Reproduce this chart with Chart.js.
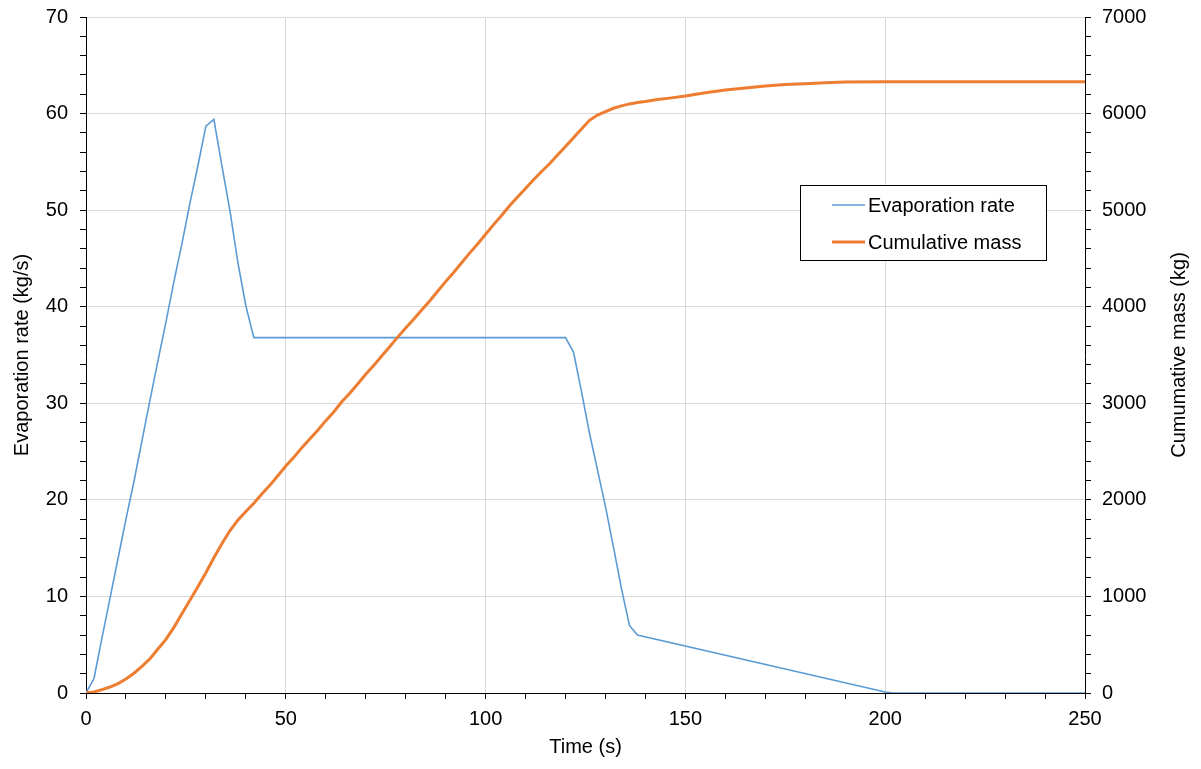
<!DOCTYPE html>
<html>
<head>
<meta charset="utf-8">
<script src="https://cdn.jsdelivr.net/npm/chart.js@4/dist/chart.umd.min.js"></script>
<style>
  body { margin: 0; background: #fff; }
  canvas { display: block; }
</style>
</head>
<body>
<canvas id="chart" width="1201" height="769"></canvas>
<script>
// evaporation rate (kg/s) vs time (s)
var evapTime = [0, 2, 4, 6, 8, 10, 12, 14, 16, 18, 20, 22, 24, 26, 28, 30, 32, 34, 36, 38, 40, 42,
                120, 122, 124, 126, 128, 130, 132, 134, 136, 138, 200, 202, 250];
var evapRate = [0, 1.5, 5.7, 9.8, 13.9, 18.0, 21.9, 26.1, 30.3, 34.4, 38.4, 42.6, 46.5, 50.7, 54.6, 58.7, 59.4, 54.6, 50.0, 44.6, 40.1, 36.8,
                36.8, 35.3, 31.2, 26.9, 23.1, 19.3, 15.1, 10.8, 7.0, 6.0, 0.1, 0, 0];

// cumulative mass (kg) vs time (s)
var massTime = [0, 2, 4, 6, 8, 10, 12, 14, 16, 18, 20, 22, 24, 26, 28, 30, 32, 34, 36, 38, 40, 42, 44, 46, 48, 50,
                52, 54, 56, 58, 60, 62, 64, 66, 68, 70, 72, 74, 76, 78, 80, 82, 84, 86, 88, 90, 92, 94, 96, 98, 100,
                102, 104, 106, 108, 110, 112, 114, 116, 118, 120, 122, 124, 126, 128, 130, 132, 134, 136, 138, 140,
                143, 146, 150, 155, 160, 165, 170, 175, 180, 185, 190, 200, 250];
var cumMass = [0, 10, 35, 62, 98, 145, 205, 275, 355, 455, 555, 680, 820, 960, 1100, 1245, 1400, 1545, 1680, 1790, 1880, 1965, 2060, 2150, 2250, 2350,
               2440, 2540, 2630, 2720, 2820, 2910, 3015, 3105, 3200, 3300, 3390, 3490, 3585, 3685, 3780, 3870, 3965, 4060, 4160, 4260, 4355, 4455, 4555, 4650, 4750,
               4850, 4945, 5045, 5135, 5225, 5315, 5400, 5480, 5570, 5660, 5750, 5840, 5930, 5985, 6020, 6055, 6080, 6100, 6115, 6125,
               6145, 6160, 6182, 6215, 6245, 6265, 6285, 6300, 6310, 6320, 6327, 6330, 6330];

var FONT = "'Liberation Sans', Arial, sans-serif";
var rightTitle = 'Cumumative mass (kg)';

function pts(xs, ys) {
  return xs.map(function (x, i) { return { x: x, y: ys[i] }; });
}

// legend drawn as a boxed key inside the plot, Excel style
// plus the right axis title, which reads bottom-to-top like the left one
var boxLegend = {
  id: 'boxLegend',
  afterDraw: function (chart) {
    var ctx = chart.ctx;
    var x0 = 800.5, y0 = 185.5, w = 246, h = 75;
    ctx.save();
    ctx.fillStyle = '#fff';
    ctx.fillRect(x0, y0, w, h);
    ctx.strokeStyle = '#000';
    ctx.lineWidth = 1;
    ctx.strokeRect(x0, y0, w, h);
    ctx.font = '20px ' + FONT;
    ctx.textBaseline = 'middle';
    ctx.fillStyle = '#000';
    var rows = [205, 242];
    chart.data.datasets.forEach(function (ds, i) {
      var y = rows[i];
      ctx.strokeStyle = ds.borderColor;
      ctx.lineWidth = ds.borderWidth;
      ctx.beginPath();
      ctx.moveTo(832, y);
      ctx.lineTo(865, y);
      ctx.stroke();
      ctx.fillText(ds.label, 868, y + 1);
    });

    var area = chart.chartArea;
    ctx.translate(1179, (area.top + area.bottom) / 2);
    ctx.rotate(-Math.PI / 2);
    ctx.textAlign = 'center';
    ctx.fillText(rightTitle, 0, 0);
    ctx.restore();
  }
};

function fitV(w) {
  return function (s) { s.width = w; s.paddingTop = 0; s.paddingBottom = 0; };
}

new Chart(document.getElementById('chart').getContext('2d'), {
  type: 'line',
  data: {
    datasets: [
      {
        label: 'Evaporation rate',
        data: pts(evapTime, evapRate),
        borderColor: '#5B9BD5',
        borderWidth: 1.6,
        yAxisID: 'y',
        order: 1
      },
      {
        label: 'Cumulative mass',
        data: pts(massTime, cumMass),
        borderColor: '#ED7D31',
        borderWidth: 3,
        yAxisID: 'y2',
        order: 0
      }
    ]
  },
  options: {
    responsive: false,
    animation: false,
    layout: { padding: { top: 17, left: 0, right: 0, bottom: 0 } },
    elements: { point: { radius: 0 }, line: { tension: 0 } },
    plugins: { legend: { display: false }, tooltip: { enabled: false } },
    scales: {
      x: {
        type: 'linear',
        min: 0, max: 250,
        afterFit: function (s) { s.height = 76; s.paddingLeft = 0; s.paddingRight = 0; },
        ticks: {
          stepSize: 10, autoSkip: false, maxRotation: 0, padding: 8,
          color: '#000', font: { family: FONT, size: 20 },
          callback: function (v) { return v % 50 === 0 ? v : ''; }
        },
        grid: {
          tickLength: 6,
          color: function (c) { return c.tick && c.tick.value % 50 === 0 ? '#d9d9d9' : 'rgba(0,0,0,0)'; },
          tickColor: '#000'
        },
        border: { color: '#000', width: 1 },
        title: { display: true, text: 'Time (s)', color: '#000', font: { family: FONT, size: 20 }, padding: { top: 0, bottom: 10 } }
      },
      y: {
        position: 'left',
        min: 0, max: 70,
        afterFit: fitV(86),
        ticks: {
          stepSize: 2, autoSkip: false, padding: 12,
          color: '#000', font: { family: FONT, size: 20 },
          callback: function (v) { return v % 10 === 0 ? v : ''; }
        },
        grid: {
          tickLength: 6,
          color: function (c) { return c.tick && c.tick.value % 10 === 0 && c.tick.value > 0 ? '#d9d9d9' : 'rgba(0,0,0,0)'; },
          tickColor: '#000'
        },
        border: { color: '#000', width: 1 },
        title: { display: true, text: 'Evaporation rate (kg/s)', color: '#000', font: { family: FONT, size: 20 }, padding: { top: 10, bottom: 0 } }
      },
      y2: {
        position: 'right',
        min: 0, max: 7000,
        afterFit: fitV(116),
        ticks: {
          stepSize: 200, autoSkip: false, padding: 11,
          color: '#000', font: { family: FONT, size: 20 },
          callback: function (v) { return v % 1000 === 0 ? v : ''; }
        },
        grid: { drawOnChartArea: false, tickLength: 6, tickColor: '#000' },
        border: { color: '#000', width: 1 }
      }
    }
  },
  plugins: [boxLegend]
});
</script>
</body>
</html>
